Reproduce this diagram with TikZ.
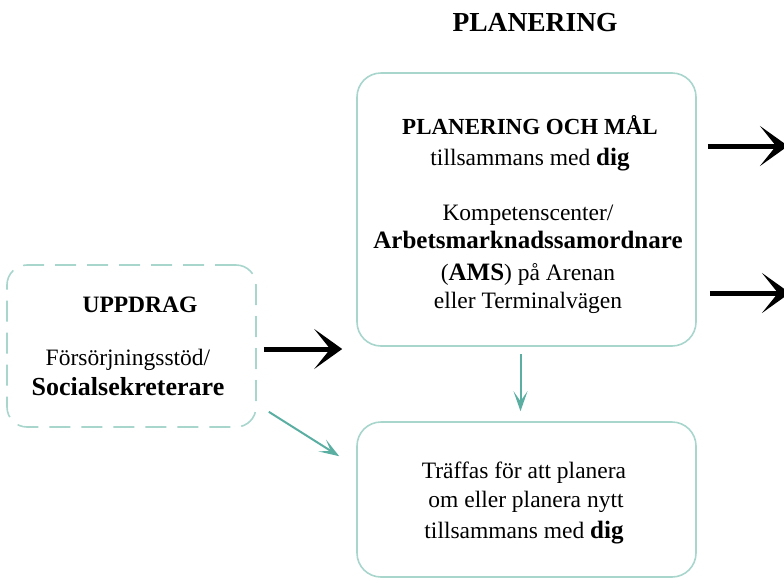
\documentclass[tikz,border=0pt]{standalone}
\usepackage{fontspec}
\setmainfont{Liberation Serif}
\usetikzlibrary{arrows.meta,calc}
\definecolor{boxline}{HTML}{A8D5CC}
\definecolor{tealarrow}{HTML}{5AAEA2}
\begin{document}
\begin{tikzpicture}[x=1pt,y=-1pt,
  box/.style={draw=boxline, line width=1.6pt, rounded corners=24pt, inner sep=0pt},
  dbox/.style={draw=boxline, line width=1.6pt, rounded corners=20pt, inner sep=0pt, dash pattern=on 21pt off 11pt},
  txt/.style={anchor=base, inner sep=0pt, font=\fontsize{23.5}{30}\selectfont},
  bigtxt/.style={anchor=base, inner sep=0pt, font=\fontsize{25}{30}\selectfont\bfseries},
  bigarrow/.style={line width=5pt, -{Stealth[length=28pt, width=40pt, inset=16pt]}},
  tealarrowst/.style={draw=tealarrow, line width=2pt, -{Stealth[length=20pt, width=14pt, inset=10pt]}}
]
\useasboundingbox (0,0) rectangle (784,579);
% boxes
\node[dbox, minimum width=249pt, minimum height=162pt] (upp) at (131.5,346) {};
\node[box, minimum width=339pt, minimum height=273pt] (plan) at (526.5,209.5) {};
\node[box, minimum width=339pt, minimum height=155pt] (treff) at (526.5,499.5) {};
% heading
\node[txt, font=\fontsize{27.5}{30}\selectfont\bfseries] (head) at (535,31) {PLANERING};
% uppdrag text
\node[txt, font=\fontsize{23.5}{30}\selectfont\bfseries] (u1) at (140,312) {UPPDRAG};
\node[txt] (u2) at (128,365) {Försörjningsstöd/};
\node[txt, font=\fontsize{26}{30}\selectfont\bfseries] (u3) at (128,395) {Socialsekreterare};
% planering text
\node[txt, font=\fontsize{23}{30}\selectfont\bfseries] (p1) at (530,134) {PLANERING OCH MÅL};
\node[txt] (p2) at (530,165) {tillsammans med {\fontsize{25}{30}\selectfont\bfseries dig}};
\node[txt] (p3) at (528,220) {Kompetenscenter/};
\node[bigtxt] (p4) at (528,248) {Arbetsmarknadssamordnare};
\node[txt] (p5) at (528,280) {({\fontsize{25}{30}\selectfont\bfseries AMS}) på Arenan};
\node[txt] (p6) at (528,308) {eller Terminalvägen};
% träffas text
\node[txt] (t1) at (524,478) {Träffas för att planera};
\node[txt] (t2) at (526,507) {om eller planera nytt};
\node[txt] (t3) at (524,538) {tillsammans med {\fontsize{25}{30}\selectfont\bfseries dig}};
% free ends
\coordinate (r1end) at (788,146);
\coordinate (r2end) at (790,293);
\coordinate (lrow) at (0,349);
% black arrows
\draw[bigarrow] ([xshift=7pt]upp.east |- lrow) -- ([xshift=-14pt]plan.west |- lrow);
\draw[bigarrow] ([xshift=11pt]plan.east |- r1end) -- (r1end);
\draw[bigarrow] ([xshift=13pt]plan.east |- r2end) -- (r2end);
% teal arrows
\draw[tealarrowst] ([xshift=-6pt, yshift=-7pt]plan.south) -- ([xshift=-6pt, yshift=10pt]treff.north);
\draw[tealarrowst] ([shift={(12,-16)}]upp.south east) -- ([shift={(-17,35)}]treff.north west);
\end{tikzpicture}
\end{document}
